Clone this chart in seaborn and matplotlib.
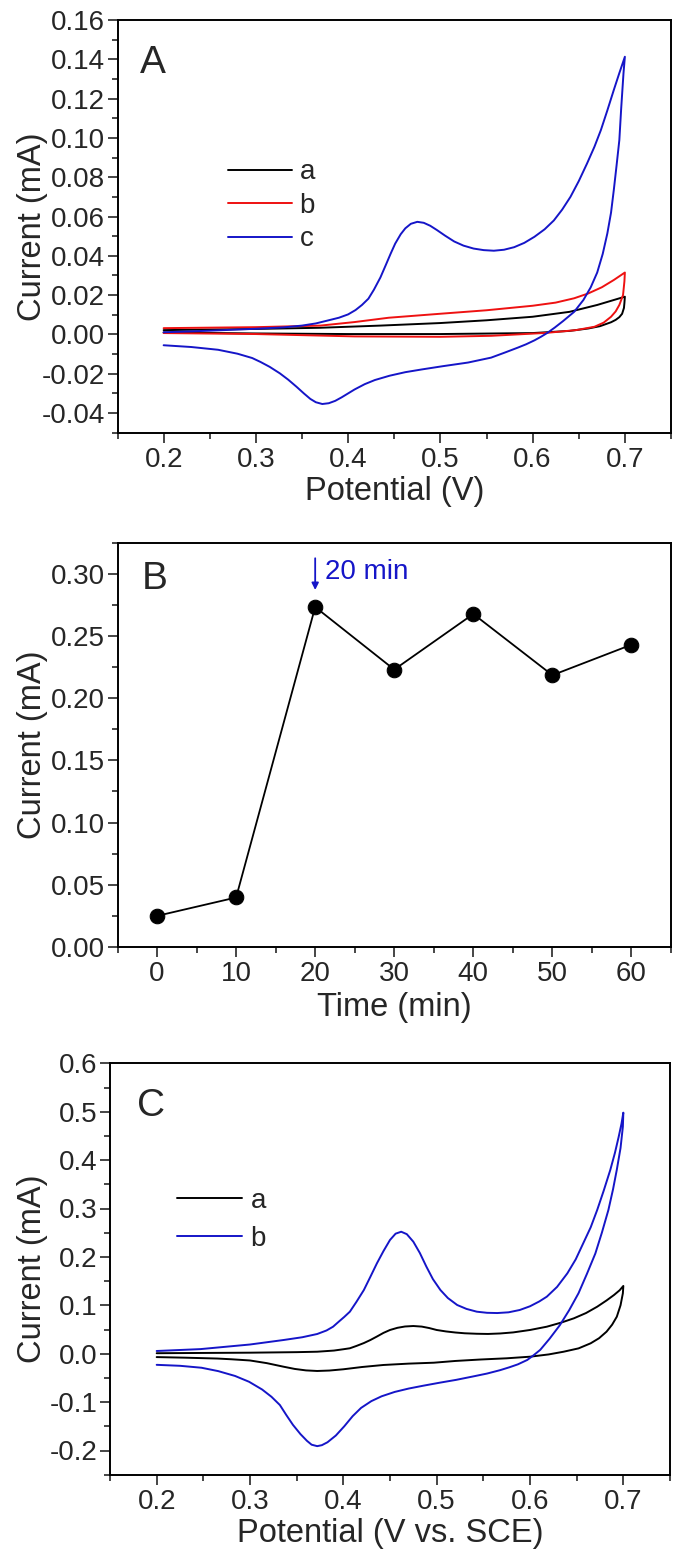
import pandas as pd
import matplotlib.pyplot as plt
import seaborn as sns
from matplotlib.ticker import MultipleLocator, FormatStrFormatter

# -------------------------
# Data
# -------------------------
# Panel A: cyclic voltammograms (forward = anodic sweep, reverse = cathodic sweep)
a_fwd_E = [0.200, 0.300, 0.370, 0.435, 0.500, 0.550, 0.600, 0.640, 0.670, 0.690, 0.700]
a_fwd_I = [0.0022, 0.0028, 0.0034, 0.0045, 0.0058, 0.0072, 0.0090, 0.0115, 0.0150, 0.0178, 0.0192]
a_rev_E = [0.700, 0.6995, 0.699, 0.697, 0.694, 0.690, 0.685, 0.673, 0.660, 0.640, 0.600, 0.500, 0.400, 0.300, 0.200]
a_rev_I = [0.0192, 0.0160, 0.0135, 0.0105, 0.0088, 0.0074, 0.0062, 0.0042, 0.0030, 0.0018, 0.0007, 0.0002, 0.0002, 0.0005, 0.0010]

b_fwd_E = [0.200, 0.300, 0.370, 0.407, 0.444, 0.502, 0.550, 0.600, 0.625, 0.645, 0.660, 0.675, 0.688, 0.700]
b_fwd_I = [0.0032, 0.0037, 0.0045, 0.0063, 0.0085, 0.0106, 0.0123, 0.0146, 0.0162, 0.0184, 0.0208, 0.0240, 0.0277, 0.0315]
b_rev_E = [0.700, 0.6995, 0.698, 0.694, 0.690, 0.685, 0.677, 0.667, 0.647, 0.615, 0.555, 0.500, 0.407, 0.300, 0.200]
b_rev_I = [0.0315, 0.0270, 0.0200, 0.0150, 0.0117, 0.0090, 0.0060, 0.0039, 0.0022, 0.0008, -0.0007, -0.0012, -0.0010, 0.0002, 0.0007]

c_fwd_E = [0.200, 0.250, 0.296, 0.330, 0.350, 0.365, 0.378, 0.390, 0.400, 0.408, 0.415, 0.422,
           0.428, 0.435, 0.441, 0.446, 0.451, 0.457, 0.462, 0.468, 0.475, 0.482, 0.489, 0.496,
           0.505, 0.515, 0.525, 0.536, 0.547, 0.558, 0.569, 0.580, 0.591, 0.602, 0.613, 0.623,
           0.632, 0.641, 0.650, 0.659, 0.667, 0.674, 0.681, 0.688, 0.694, 0.700]
c_fwd_I = [0.0011, 0.0019, 0.0028, 0.0036, 0.0045, 0.0056, 0.0071, 0.0085, 0.0102, 0.0124, 0.0150, 0.0182,
           0.0228, 0.0290, 0.0355, 0.0410, 0.0462, 0.0510, 0.0540, 0.0563, 0.0573, 0.0568, 0.0553, 0.0532,
           0.0503, 0.0473, 0.0452, 0.0437, 0.0429, 0.0426, 0.0431, 0.0444, 0.0466, 0.0497, 0.0535, 0.0580,
           0.0635, 0.0700, 0.0780, 0.0870, 0.0955, 0.1040, 0.1140, 0.1244, 0.1330, 0.1413]
c_rev_E = [0.700, 0.6985, 0.696, 0.694, 0.691, 0.688, 0.685, 0.681, 0.676, 0.670, 0.663, 0.655,
           0.645, 0.633, 0.624, 0.616, 0.609, 0.602, 0.593, 0.584, 0.570, 0.555, 0.530, 0.502,
           0.480, 0.462, 0.445, 0.429, 0.418, 0.407, 0.400, 0.393, 0.386, 0.379, 0.372, 0.365,
           0.359, 0.352, 0.344, 0.335, 0.326, 0.315, 0.305, 0.296, 0.280, 0.259, 0.230, 0.200]
c_rev_I = [0.1413, 0.1329, 0.1150, 0.0989, 0.0860, 0.0735, 0.0620, 0.0514, 0.0410, 0.0315, 0.0240, 0.0175,
           0.0115, 0.0068, 0.0035, 0.0008, -0.0012, -0.0030, -0.0050, -0.0067, -0.0092, -0.0118, -0.0143, -0.0162,
           -0.0178, -0.0192, -0.0210, -0.0232, -0.0253, -0.0280, -0.0300, -0.0320, -0.0338, -0.0350, -0.0354, -0.0345,
           -0.0328, -0.0300, -0.0266, -0.0230, -0.0198, -0.0165, -0.0140, -0.0120, -0.0098, -0.0078, -0.0064, -0.0055]

# Panel B: peak current vs time
time_min = [0, 10, 20, 30, 40, 50, 60]
current_b = [0.0250, 0.0398, 0.2733, 0.2230, 0.2677, 0.2185, 0.2430]

# Panel C
ca_fwd_E = [0.200, 0.300, 0.350, 0.372, 0.390, 0.400, 0.407, 0.414, 0.422, 0.429, 0.436, 0.443,
            0.450, 0.458, 0.466, 0.475, 0.484, 0.492, 0.500, 0.510, 0.520, 0.530, 0.543, 0.555,
            0.568, 0.582, 0.600, 0.618, 0.633, 0.647, 0.660, 0.672, 0.682, 0.690, 0.696, 0.700]
ca_fwd_I = [0.0010, 0.0021, 0.0032, 0.0041, 0.0065, 0.0092, 0.0112, 0.0160, 0.0220, 0.0283, 0.0355, 0.0430,
            0.0490, 0.0535, 0.0562, 0.0572, 0.0560, 0.0530, 0.0490, 0.0460, 0.0438, 0.0422, 0.0412, 0.0408,
            0.0418, 0.0440, 0.0490, 0.0558, 0.0640, 0.0731, 0.0840, 0.0971, 0.1100, 0.1213, 0.1310, 0.1400]
ca_rev_E = [0.700, 0.6995, 0.697, 0.693, 0.688, 0.682, 0.674, 0.665, 0.652, 0.636, 0.620, 0.600,
            0.575, 0.547, 0.520, 0.497, 0.470, 0.443, 0.420, 0.400, 0.385, 0.372, 0.360, 0.348,
            0.336, 0.318, 0.300, 0.280, 0.265, 0.230, 0.200]
ca_rev_I = [0.1400, 0.1248, 0.1000, 0.0764, 0.0600, 0.0455, 0.0320, 0.0215, 0.0110, 0.0041, -0.0015, -0.0062,
            -0.0095, -0.0120, -0.0150, -0.0186, -0.0205, -0.0233, -0.0275, -0.0322, -0.0348, -0.0357, -0.0345, -0.0315,
            -0.0269, -0.0195, -0.0140, -0.0115, -0.0100, -0.0082, -0.0070]

cb_fwd_E = [0.200, 0.247, 0.300, 0.336, 0.356, 0.372, 0.382, 0.389, 0.395, 0.401, 0.407, 0.414,
            0.422, 0.429, 0.436, 0.443, 0.450, 0.456, 0.462, 0.468, 0.475, 0.482, 0.489, 0.496,
            0.504, 0.512, 0.522, 0.532, 0.543, 0.554, 0.565, 0.577, 0.589, 0.600, 0.610, 0.618,
            0.629, 0.640, 0.649, 0.657, 0.665, 0.672, 0.679, 0.686, 0.691, 0.695, 0.698, 0.700]
cb_fwd_I = [0.0056, 0.0095, 0.0190, 0.0283, 0.0340, 0.0407, 0.0480, 0.0558, 0.0660, 0.0760, 0.0868, 0.1070,
            0.1316, 0.1590, 0.1868, 0.2120, 0.2350, 0.2480, 0.2520, 0.2470, 0.2314, 0.2080, 0.1798, 0.1540,
            0.1316, 0.1150, 0.1006, 0.0925, 0.0868, 0.0845, 0.0840, 0.0855, 0.0903, 0.0980, 0.1080, 0.1178,
            0.1380, 0.1660, 0.1950, 0.2280, 0.2610, 0.2970, 0.3370, 0.3795, 0.4150, 0.4480, 0.4750, 0.4980]
cb_rev_E = [0.700, 0.6995, 0.697, 0.693, 0.689, 0.684, 0.677, 0.670, 0.661, 0.652, 0.642, 0.632,
            0.621, 0.611, 0.604, 0.597, 0.587, 0.578, 0.568, 0.554, 0.539, 0.521, 0.503, 0.486,
            0.470, 0.455, 0.441, 0.430, 0.419, 0.410, 0.401, 0.392, 0.383, 0.377, 0.372, 0.366,
            0.361, 0.354, 0.346, 0.339, 0.332, 0.323, 0.313, 0.299, 0.284, 0.266, 0.248, 0.225, 0.200]
cb_rev_I = [0.498, 0.469, 0.425, 0.380, 0.340, 0.297, 0.250, 0.207, 0.165, 0.125, 0.090, 0.059,
            0.031, 0.008, -0.003, -0.013, -0.022, -0.028, -0.034, -0.041, -0.047, -0.054, -0.060, -0.066,
            -0.072, -0.079, -0.088, -0.098, -0.112, -0.129, -0.150, -0.169, -0.183, -0.189, -0.191, -0.188,
            -0.180, -0.166, -0.147, -0.127, -0.106, -0.089, -0.074, -0.058, -0.046, -0.036, -0.029, -0.025, -0.023]

BLACK = "#000000"
RED = "#ee1111"
BLUE = "#1515c8"


def cv_frame(curves):
    rows = []
    for name, fE, fI, rE, rI in curves:
        for e, i in zip(fE + rE, fI + rI):
            rows.append({"E": e, "I": i, "curve": name})
    return pd.DataFrame(rows)


# -------------------------
# Style
# -------------------------
sns.set_style("ticks")
plt.rcParams["font.family"] = ["Liberation Sans", "DejaVu Sans"]
plt.rcParams["axes.unicode_minus"] = False
plt.rcParams["axes.linewidth"] = 1.4

W, H = 685, 1560
fig = plt.figure(figsize=(W / 100, H / 100), dpi=100)
axA = fig.add_axes([117.5 / W, 1 - 432.7 / H, 553.5 / W, 412.7 / H])
axB = fig.add_axes([117.5 / W, 1 - 947.0 / H, 553.5 / W, 404.3 / H])
axC = fig.add_axes([110.0 / W, 1 - 1474.7 / H, 560.0 / W, 411.4 / H])


def style_axis(ax, xmaj, xmin, ymaj, ymin, xfmt, yfmt):
    ax.xaxis.set_major_locator(MultipleLocator(xmaj))
    ax.xaxis.set_minor_locator(MultipleLocator(xmin))
    ax.yaxis.set_major_locator(MultipleLocator(ymaj))
    ax.yaxis.set_minor_locator(MultipleLocator(ymin))
    ax.xaxis.set_major_formatter(FormatStrFormatter(xfmt))
    ax.yaxis.set_major_formatter(FormatStrFormatter(yfmt))
    ax.tick_params(which="major", length=7, width=1.2, direction="out", labelsize=20,
                   top=False, right=False)
    ax.tick_params(which="minor", length=4, width=1.2, direction="out", top=False, right=False)
    ax.tick_params(axis="x", which="major", pad=3)
    ax.tick_params(axis="y", which="major", pad=2)
    for s in ax.spines.values():
        s.set_visible(True)
        s.set_linewidth(1.4)
        s.set_color("black")


# ==========================
# A
# ==========================
dfA = cv_frame([("a", a_fwd_E, a_fwd_I, a_rev_E, a_rev_I),
                ("b", b_fwd_E, b_fwd_I, b_rev_E, b_rev_I),
                ("c", c_fwd_E, c_fwd_I, c_rev_E, c_rev_I)])
sns.lineplot(data=dfA, x="E", y="I", hue="curve", palette=[BLACK, RED, BLUE],
             sort=False, estimator=None, linewidth=1.4, ax=axA)
axA.set_xlim(0.15, 0.75)
axA.set_ylim(-0.05, 0.16)
style_axis(axA, 0.1, 0.05, 0.02, 0.01, "%.1f", "%.2f")
axA.set_xlabel("Potential (V)", fontsize=23.5)
axA.set_ylabel("Current (mA)", fontsize=23.5)
axA.xaxis.set_label_coords(0.5, -0.104)
axA.yaxis.set_label_coords(-0.125, 0.5)
axA.text(0.064, 0.895, "A", transform=axA.transAxes, fontsize=28, ha="center", va="center")
sns.move_legend(axA, "upper left", bbox_to_anchor=(0.1996, 0.662), frameon=False, title=None,
                fontsize=20, handlelength=2.3, handletextpad=0.28, labelspacing=0.27,
                borderpad=0, borderaxespad=0)

# ==========================
# B
# ==========================
dfB = pd.DataFrame({"t": time_min, "I": current_b})
sns.lineplot(data=dfB, x="t", y="I", color=BLACK, marker="o", markersize=10.5,
             markeredgecolor=BLACK, linewidth=1.3, ax=axB)
axB.set_xlim(-5, 65)
axB.set_ylim(0, 0.325)
style_axis(axB, 10, 5, 0.05, 0.025, "%d", "%.2f")
axB.set_xlabel("Time (min)", fontsize=23.5)
axB.set_ylabel("Current (mA)", fontsize=23.5)
axB.xaxis.set_label_coords(0.5, -0.1125)
axB.yaxis.set_label_coords(-0.125, 0.5)
axB.text(0.067, 0.91, "B", transform=axB.transAxes, fontsize=28, ha="center", va="center")
axB.annotate("", xy=(20, 0.287), xytext=(20, 0.3125),
             arrowprops=dict(arrowstyle="-|>", color=BLUE, lw=1.3, mutation_scale=10,
                             shrinkA=0, shrinkB=0))
axB.text(21.2, 0.3015, "20 min", color=BLUE, fontsize=20, ha="left", va="center")

# ==========================
# C
# ==========================
dfC = cv_frame([("a", ca_fwd_E, ca_fwd_I, ca_rev_E, ca_rev_I),
                ("b", cb_fwd_E, cb_fwd_I, cb_rev_E, cb_rev_I)])
sns.lineplot(data=dfC, x="E", y="I", hue="curve", palette=[BLACK, BLUE],
             sort=False, estimator=None, linewidth=1.4, ax=axC)
axC.set_xlim(0.15, 0.75)
axC.set_ylim(-0.25, 0.6)
style_axis(axC, 0.1, 0.05, 0.1, 0.05, "%.1f", "%.1f")
axC.set_xlabel("Potential (V vs. SCE)", fontsize=23.5)
axC.set_ylabel("Current (mA)", fontsize=23.5)
axC.xaxis.set_label_coords(0.5, -0.105)
axC.yaxis.set_label_coords(-0.11, 0.5)
axC.text(0.074, 0.895, "C", transform=axC.transAxes, fontsize=28, ha="center", va="center")
sns.move_legend(axC, "upper left", bbox_to_anchor=(0.1188, 0.697), frameon=False, title=None,
                fontsize=20, handlelength=2.37, handletextpad=0.3, labelspacing=0.42,
                borderpad=0, borderaxespad=0)

fig.savefig("out.png", dpi=100)
